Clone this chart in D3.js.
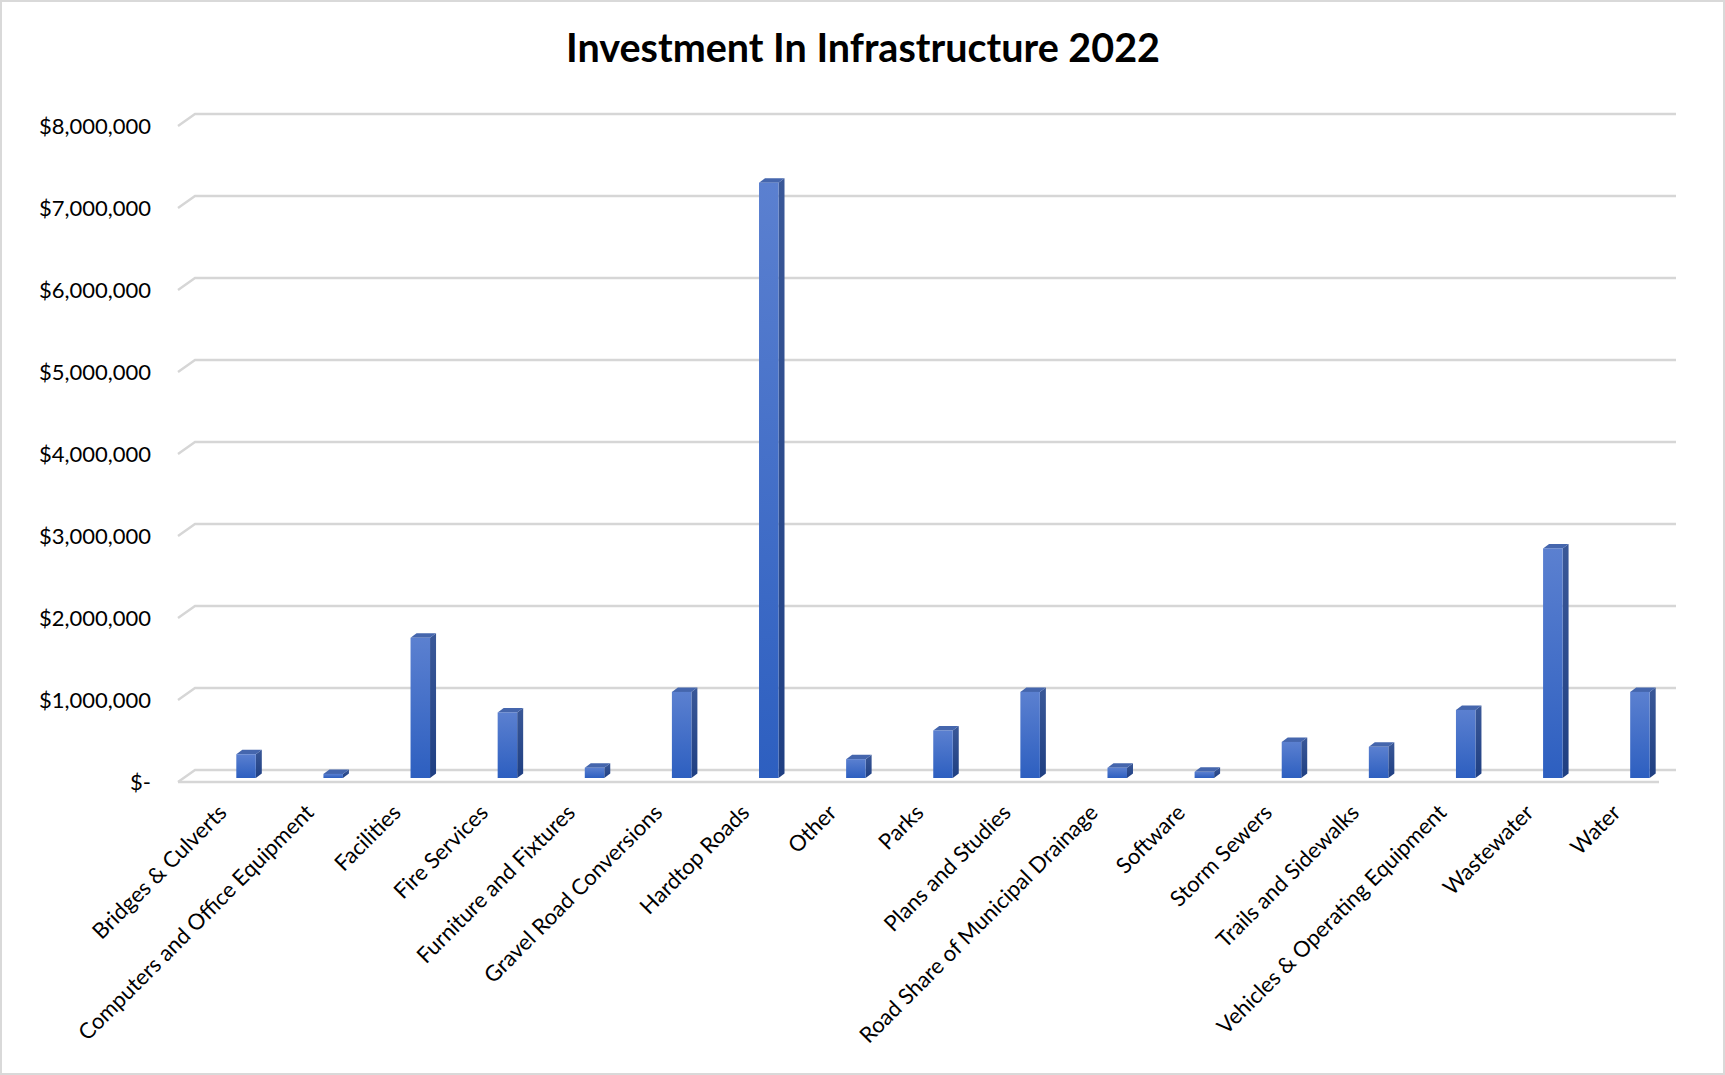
<!DOCTYPE html>
<html>
<head>
<meta charset="utf-8">
<script src="https://cdn.jsdelivr.net/npm/d3@7"></script>
<style>
  html, body { margin: 0; padding: 0; background: #ffffff; }
  svg { display: block; }
</style>
</head>
<body>
<svg id="chart" width="1725" height="1075"></svg>
<script>
// Capital investment by asset category, 2022 (dollars)
const categories = [
  "Bridges & Culverts",
  "Computers and Office Equipment",
  "Facilities",
  "Fire Services",
  "Furniture and Fixtures",
  "Gravel Road Conversions",
  "Hardtop Roads",
  "Other",
  "Parks",
  "Plans and Studies",
  "Road Share of Municipal Drainage",
  "Software",
  "Storm Sewers",
  "Trails and Sidewalks",
  "Vehicles & Operating Equipment",
  "Wastewater",
  "Water"
];
const values = [
  290000, 50000, 1710000, 800000, 125000, 1050000, 7260000, 230000,
  580000, 1050000, 125000, 75000, 440000, 380000, 830000, 2800000, 1050000
];
const yTickValues = [0, 1000000, 2000000, 3000000, 4000000, 5000000, 6000000, 7000000, 8000000];
const yTickLabels = ["$-", "$1,000,000", "$2,000,000", "$3,000,000", "$4,000,000",
                     "$5,000,000", "$6,000,000", "$7,000,000", "$8,000,000"];
const title = "Investment In Infrastructure 2022";

const W = 1725, H = 1075;
const svg = d3.select("#chart");

// outer frame
svg.append("rect")
  .attr("x", 1).attr("y", 1).attr("width", W - 2).attr("height", H - 2)
  .attr("fill", "#ffffff").attr("stroke", "#d9d9d9").attr("stroke-width", 2);

// 3-D plot box: back wall and floor depth offset
const backLeft = 195, backRight = 1676;
const depthX = 17, depthY = 12;      // front edge sits down-left of the back wall
const yBack = d3.scaleLinear().domain([0, 8000000]).range([770, 114]);
const barDepth = 8;                  // bars sit between the wall and the front edge
const yBar = v => yBack(v) + barDepth;

const x = d3.scaleBand().domain(categories).range([202.5, 1683.5]).padding(0);

// title
svg.append("text")
  .attr("x", 863).attr("y", 62)
  .attr("text-anchor", "middle")
  .attr("font-family", "Lato, 'Open Sans', sans-serif")
  .attr("font-weight", "bold")
  .attr("font-size", 39.5)
  .attr("fill", "#000")
  .text(title);

// gridlines: back-wall line plus the slanted side-wall segment
const grid = svg.append("g").attr("stroke", "#d6d6d6").attr("stroke-width", 2.4).attr("fill", "none");
yTickValues.forEach(v => {
  const y = yBack(v);
  grid.append("path")
    .attr("d", `M${backLeft - depthX},${y + depthY}L${backLeft},${y}L${backRight},${y}`);
});
// front edge of the floor
grid.append("path")
  .attr("d", `M${backLeft - depthX},${yBack(0) + depthY}L${backRight - depthX},${yBack(0) + depthY}`);

// y axis labels
svg.append("g")
  .selectAll("text")
  .data(yTickValues)
  .join("text")
  .attr("x", 151)
  .attr("y", d => yBack(d) + depthY)
  .attr("dy", "0.35em")
  .attr("text-anchor", "end")
  .attr("font-family", "Lato, 'Open Sans', sans-serif")
  .attr("font-size", 22)
  .attr("fill", "#000")
  .text((d, i) => yTickLabels[i]);

// gradients for bar faces
const defs = svg.append("defs");
const gFront = defs.append("linearGradient").attr("id", "gFront").attr("x1", 0).attr("y1", 0).attr("x2", 0).attr("y2", 1);
gFront.append("stop").attr("offset", "0%").attr("stop-color", "#5b80d0");
gFront.append("stop").attr("offset", "100%").attr("stop-color", "#2d5fc0");
const gSide = defs.append("linearGradient").attr("id", "gSide").attr("x1", 0).attr("y1", 0).attr("x2", 0).attr("y2", 1);
gSide.append("stop").attr("offset", "0%").attr("stop-color", "#3a5898");
gSide.append("stop").attr("offset", "100%").attr("stop-color", "#1f3f82");

// 3-D columns
const bw = 19.5, dx = 6, dy = 4.5;
const bars = svg.append("g");
categories.forEach((c, i) => {
  const xc = x(c) + x.bandwidth() / 2;
  const x0 = xc - bw / 2, x1 = xc + bw / 2;
  const yt = yBar(values[i]), yb = yBar(0);
  const g = bars.append("g");
  // side face
  g.append("path")
    .attr("d", `M${x1},${yt}L${x1 + dx},${yt - dy}L${x1 + dx},${yb - dy}L${x1},${yb}Z`)
    .attr("fill", "url(#gSide)");
  // top face
  g.append("path")
    .attr("d", `M${x0},${yt}L${x0 + dx},${yt - dy}L${x1 + dx},${yt - dy}L${x1},${yt}Z`)
    .attr("fill", "#4566ad");
  // front face
  g.append("rect")
    .attr("x", x0).attr("y", yt)
    .attr("width", bw).attr("height", Math.max(0, yb - yt))
    .attr("fill", "url(#gFront)");
});

// category labels, rotated 45 degrees
svg.append("g")
  .selectAll("text")
  .data(categories)
  .join("text")
  .attr("transform", d => `translate(${x(d) + x.bandwidth() / 2 - 18},${814}) rotate(-45)`)
  .attr("text-anchor", "end")
  .attr("font-family", "Lato, 'Open Sans', sans-serif")
  .attr("font-size", 22)
  .attr("fill", "#000")
  .text(d => d);
</script>
</body>
</html>
